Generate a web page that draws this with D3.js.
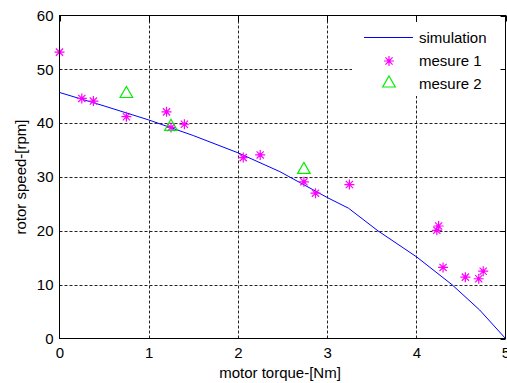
<!DOCTYPE html>
<html>
<head>
<meta charset="utf-8">
<script src="https://cdn.jsdelivr.net/npm/d3@7"></script>
<style>
  body { margin: 0; background: #fff; }
  text { font-family: "Liberation Sans", Arial, sans-serif; fill: #000; }
</style>
</head>
<body>
<div class="chart"></div>
<script>
// simulation curve
var simTorque = [0, 0.5, 1, 1.5, 2, 2.47, 3, 3.24, 3.57, 4, 4.4, 4.71, 5]
var simSpeed = [45.7, 43.2, 40.6, 37.7, 34.5, 31.0, 26.2, 24.2, 20.0, 15.2, 10.0, 5.3, 0]

// mesure 1 (stars)
var m1Torque = [0, 0.25, 0.38, 0.75, 1.2, 1.25, 1.4, 2.06, 2.25, 2.74, 2.87, 3.25, 4.23, 4.25, 4.3, 4.55, 4.7, 4.75]
var m1Speed = [53.2, 44.6, 44.1, 41.2, 42.1, 39.2, 39.8, 33.6, 34.1, 29.1, 27.0, 28.6, 20.1, 20.9, 13.2, 11.4, 11.1, 12.5]

// mesure 2 (triangles)
var m2Torque = [0.75, 1.25, 2.74]
var m2Speed = [45.7, 39.6, 31.6]

var xTicks = [0, 1, 2, 3, 4, 5]
var yTicks = [0, 10, 20, 30, 40, 50, 60]

var svg = d3.select(".chart")
    .append("svg")
    .attr("width", 507)
    .attr("height", 383)

var x = d3.scaleLinear().domain([0, 5]).range([59.5, 505.5])
var y = d3.scaleLinear().domain([0, 60]).range([338.5, 15.5])

// grid
svg.selectAll(".gx")
    .data(xTicks.slice(1, -1))
    .enter().append("line")
    .attr("x1", d => Math.round(x(d)) + 0.5)
    .attr("x2", d => Math.round(x(d)) + 0.5)
    .attr("y1", y(60))
    .attr("y2", y(0))
    .style("stroke", "#222")
    .style("stroke-dasharray", "3,2")

svg.selectAll(".gy")
    .data(yTicks.slice(1, -1))
    .enter().append("line")
    .attr("x1", x(0))
    .attr("x2", x(5))
    .attr("y1", d => Math.round(y(d)) + 0.5)
    .attr("y2", d => Math.round(y(d)) + 0.5)
    .style("stroke", "#222")
    .style("stroke-dasharray", "3,2")

// axes labels
svg.append("g")
    .attr("transform", "translate(0," + y(0) + ")")
    .call(d3.axisBottom(x).tickValues(xTicks).tickSize(0).tickPadding(9).tickFormat(d3.format("d")))
    .call(g => g.select(".domain").remove())
    .selectAll("text")
    .style("font-size", "15px")

svg.append("g")
    .attr("transform", "translate(" + x(0) + ",0)")
    .call(d3.axisLeft(y).tickValues(yTicks).tickSize(0).tickPadding(6).tickFormat(d3.format("d")))
    .call(g => g.select(".domain").remove())
    .selectAll("text")
    .style("font-size", "15px")

svg.append("text")
    .attr("x", 280)
    .attr("y", 378)
    .attr("text-anchor", "middle")
    .style("font-size", "15px")
    .text("motor torque-[Nm]")

svg.append("text")
    .attr("text-anchor", "middle")
    .attr("transform", "translate(26," + ((y(0) + y(60)) / 2) + ") rotate(-90)")
    .style("font-size", "15px")
    .text("rotor speed-[rpm]")

// simulation line
var line = d3.line().x(d => x(d[0])).y(d => y(d[1]))
svg.append("path")
    .datum(simTorque.map((t, i) => [t, simSpeed[i]]))
    .attr("d", line)
    .style("fill", "none")
    .style("stroke", "#0000ff")
    .style("stroke-width", 1)

function star(g, cx, cy) {
    var r = 5, s = 3.6
    g.append("path")
        .attr("d", "M" + (cx - r) + "," + cy + "H" + (cx + r) +
            "M" + cx + "," + (cy - r) + "V" + (cy + r) +
            "M" + (cx - s) + "," + (cy - s) + "L" + (cx + s) + "," + (cy + s) +
            "M" + (cx - s) + "," + (cy + s) + "L" + (cx + s) + "," + (cy - s))
        .style("stroke", "#ff00ff")
        .style("stroke-width", 1.2)
        .style("fill", "none")
    g.append("circle").attr("cx", cx).attr("cy", cy).attr("r", 1.6).style("fill", "#ff00ff")
}

function tri(g, cx, cy) {
    g.append("path")
        .attr("d", "M" + cx + "," + (cy - 6) + "L" + (cx + 6.3) + "," + (cy + 5) + "L" + (cx - 6.3) + "," + (cy + 5) + "Z")
        .style("fill", "none")
        .style("stroke", "#00ee00")
        .style("stroke-width", 1.2)
}

var pts = svg.append("g")
m1Torque.forEach((t, i) => star(pts, x(t), y(m1Speed[i])))
m2Torque.forEach((t, i) => tri(pts, x(t), y(m2Speed[i])))

// legend
var lg = svg.append("g")
lg.append("rect")
    .attr("x", 352).attr("y", 22)
    .attr("width", 149).attr("height", 74)
    .style("fill", "#fff")

lg.append("line")
    .attr("x1", 364).attr("x2", 413)
    .attr("y1", 37.5).attr("y2", 37.5)
    .style("stroke", "#0000ff")
star(lg, 389, 61)
tri(lg, 389, 82)

var legendNames = ["simulation", "mesure 1", "mesure 2"]
legendNames.forEach((n, i) => {
    lg.append("text")
        .attr("x", 419)
        .attr("y", 43 + i * 23)
        .style("font-size", "15px")
        .text(n)
})

// inward ticks on top and right
xTicks.forEach(d => {
    svg.append("line")
        .attr("x1", Math.round(x(d)) + 0.5).attr("x2", Math.round(x(d)) + 0.5)
        .attr("y1", y(60)).attr("y2", y(60) + 6)
        .style("stroke", "#000")
})
yTicks.forEach(d => {
    svg.append("line")
        .attr("x1", x(5) - 5).attr("x2", x(5))
        .attr("y1", Math.round(y(d)) + 0.5).attr("y2", Math.round(y(d)) + 0.5)
        .style("stroke", "#000")
})

// axes box
svg.append("rect")
    .attr("x", x(0)).attr("y", y(60))
    .attr("width", x(5) - x(0)).attr("height", y(0) - y(60))
    .style("fill", "none")
    .style("stroke", "#000")
</script>
</body>
</html>
